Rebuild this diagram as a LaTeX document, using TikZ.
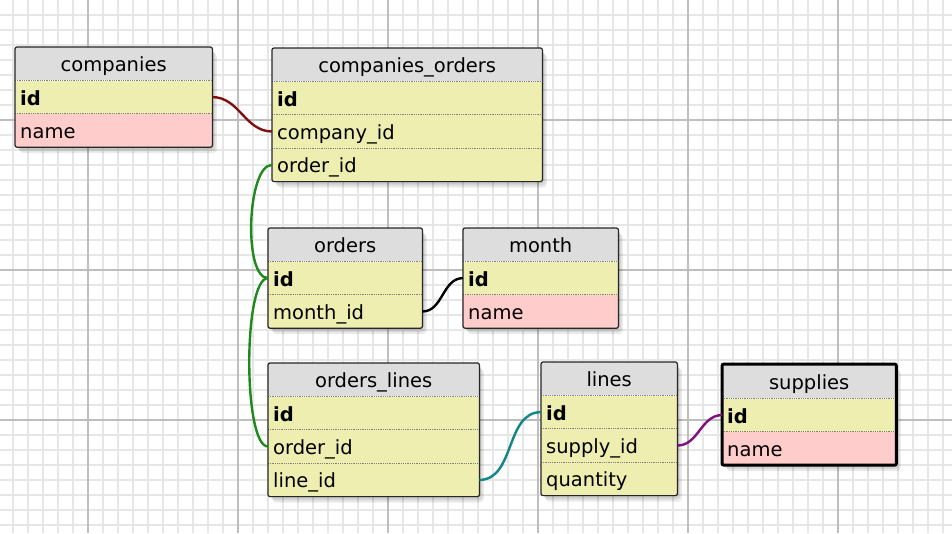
\documentclass[tikz,border=0pt]{standalone}
\usepackage{fontspec}
\setmainfont{DejaVu Sans}
\usepackage{tikz}
\usetikzlibrary{positioning,shadows,backgrounds}
\definecolor{headgray}{RGB}{221,221,221}
\definecolor{rowyellow}{RGB}{238,238,176}
\definecolor{rowpink}{RGB}{255,204,204}
\definecolor{gridminor}{RGB}{230,230,230}
\definecolor{gridmajor}{RGB}{190,190,190}
\definecolor{reldarkred}{RGB}{128,16,16}
\definecolor{relgreen}{RGB}{30,138,30}
\definecolor{relteal}{RGB}{16,134,134}
\definecolor{relpurple}{RGB}{128,16,128}
\newcommand{\tablefont}{\fontsize{19.5pt}{22pt}\selectfont}
\pgfdeclarelayer{gridlayer}
\pgfdeclarelayer{shadowlayer}
\pgfsetlayers{gridlayer,shadowlayer,main}
\tikzset{
    field/.style={minimum height=33pt, inner xsep=5pt, inner ysep=0pt, text height=18pt, text depth=2pt, font=\tablefont},
    tablehead/.style={field, fill=headgray, align=center},
    keyfield/.style={field, fill=rowyellow, align=left, font=\tablefont\bfseries},
    colfield/.style={field, fill=rowyellow, align=left},
    namefield/.style={field, fill=rowpink, align=left},
    rowsep/.style={gray, densely dotted, line width=0.8pt},
    tableframe/.style={draw=black!85, line width=1.2pt, rounded corners=2pt},
    selframe/.style={draw=black, line width=3pt},
    tableshadow/.style={rounded corners=4pt,
        preaction={fill=black, opacity=0.08, transform canvas={shift={(1.5pt,-2pt)}}},
        preaction={fill=black, opacity=0.08, transform canvas={shift={(3pt,-4pt)}}},
        preaction={fill=black, opacity=0.08, transform canvas={shift={(4.5pt,-6pt)}}},
        fill=white},
    relation/.style={line width=2.4pt},
    minorline/.style={gridminor, line width=1.5pt},
    majorline/.style={gridmajor, line width=1.6pt}
}

\begin{document}
\begin{tikzpicture}[x=1pt, y=-1pt]
    \useasboundingbox (0,0) rectangle (952,533);

    % grid paper
    \begin{pgfonlayer}{gridlayer}
        \fill[white] (0,0) rectangle (952,533);
        \foreach \gx in {13,28,...,950} \draw[minorline] (\gx,0) -- (\gx,533);
        \foreach \gy in {15,30,...,530} \draw[minorline] (0,\gy) -- (952,\gy);
        \foreach \gx in {88,238,...,850} \draw[majorline] (\gx,0) -- (\gx,533);
        \foreach \gy in {120,270,420} \draw[majorline] (0,\gy) -- (952,\gy);
    \end{pgfonlayer}

    % companies
    \begin{scope}[every node/.append style={text width=187pt}]
        \node[tablehead, anchor=north west] (comp-head) at (15,47) {companies};
        \node[keyfield, below=0pt of comp-head] (comp-id) {id};
        \node[namefield, below=0pt of comp-id] (comp-name) {name};
    \end{scope}

    % companies_orders
    \begin{scope}[every node/.append style={text width=260pt}]
        \node[tablehead, anchor=north west] (co-head) at (272,48) {companies\_orders};
        \node[keyfield, below=0pt of co-head] (co-id) {id};
        \node[colfield, below=0pt of co-id] (co-company) {company\_id};
        \node[colfield, below=0pt of co-company] (co-order) {order\_id};
    \end{scope}

    % orders
    \begin{scope}[every node/.append style={text width=144pt}]
        \node[tablehead, anchor=north west] (ord-head) at (268,228) {orders};
        \node[keyfield, below=0pt of ord-head] (ord-id) {id};
        \node[colfield, below=0pt of ord-id] (ord-month) {month\_id};
    \end{scope}

    % month
    \begin{scope}[every node/.append style={text width=145pt}]
        \node[tablehead, anchor=north west] (mon-head) at (463,228) {month};
        \node[keyfield, below=0pt of mon-head] (mon-id) {id};
        \node[namefield, below=0pt of mon-id] (mon-name) {name};
    \end{scope}

    % orders_lines
    \begin{scope}[every node/.append style={text width=201pt}]
        \node[tablehead, anchor=north west] (ol-head) at (268,363) {orders\_lines};
        \node[keyfield, below=0pt of ol-head] (ol-id) {id};
        \node[colfield, below=0pt of ol-id] (ol-order) {order\_id};
        \node[colfield, below=0pt of ol-order] (ol-line) {line\_id};
    \end{scope}

    % lines
    \begin{scope}[every node/.append style={text width=126pt}]
        \node[tablehead, anchor=north west] (ln-head) at (541,362) {lines};
        \node[keyfield, below=0pt of ln-head] (ln-id) {id};
        \node[colfield, below=0pt of ln-id] (ln-supply) {supply\_id};
        \node[colfield, below=0pt of ln-supply] (ln-qty) {quantity};
    \end{scope}

    % supplies (selected)
    \begin{scope}[every node/.append style={text width=164pt}]
        \node[tablehead, minimum height=34pt, anchor=north west] (sup-head) at (722,364) {supplies};
        \node[keyfield, below=0pt of sup-head] (sup-id) {id};
        \node[namefield, below=0pt of sup-id] (sup-name) {name};
    \end{scope}

    % dotted row separators
    \foreach \r in {comp-id,comp-name,co-id,co-company,co-order,ord-id,ord-month,mon-id,mon-name,
                    ol-id,ol-order,ol-line,ln-id,ln-supply,ln-qty,sup-id,sup-name}
        \draw[rowsep] (\r.north west) -- (\r.north east);

    % shadows under the tables
    \begin{pgfonlayer}{shadowlayer}
        \path[tableshadow] (comp-head.north west) rectangle (comp-name.south east);
        \path[tableshadow] (co-head.north west) rectangle (co-order.south east);
        \path[tableshadow] (ord-head.north west) rectangle (ord-month.south east);
        \path[tableshadow] (mon-head.north west) rectangle (mon-name.south east);
        \path[tableshadow] (ol-head.north west) rectangle (ol-line.south east);
        \path[tableshadow] (ln-head.north west) rectangle (ln-qty.south east);
        \path[tableshadow] (sup-head.north west) rectangle (sup-name.south east);
    \end{pgfonlayer}

    % table borders
    \draw[tableframe] (comp-head.north west) rectangle (comp-name.south east);
    \draw[tableframe] (co-head.north west) rectangle (co-order.south east);
    \draw[tableframe] (ord-head.north west) rectangle (ord-month.south east);
    \draw[tableframe] (mon-head.north west) rectangle (mon-name.south east);
    \draw[tableframe] (ol-head.north west) rectangle (ol-line.south east);
    \draw[tableframe] (ln-head.north west) rectangle (ln-qty.south east);
    \draw[tableframe, selframe] (sup-head.north west) rectangle (sup-name.south east);

    % relations
    \draw[relation, reldarkred] (comp-id.east) to[out=0, in=180] (co-company.west);
    \draw[relation, relgreen] (co-order.west) .. controls +(-25,0) and +(-25,0) .. (ord-id.west);
    \draw[relation, relgreen] (ord-id.west) .. controls +(-25,0) and +(-25,0) .. (ol-order.west);
    \draw[relation, black] (ord-month.east) to[out=0, in=180] (mon-id.west);
    \draw[relation, relteal] (ol-line.east) to[out=0, in=180] (ln-id.west);
    \draw[relation, relpurple] (ln-supply.east) to[out=0, in=180] (sup-id.west);
\end{tikzpicture}
\end{document}
